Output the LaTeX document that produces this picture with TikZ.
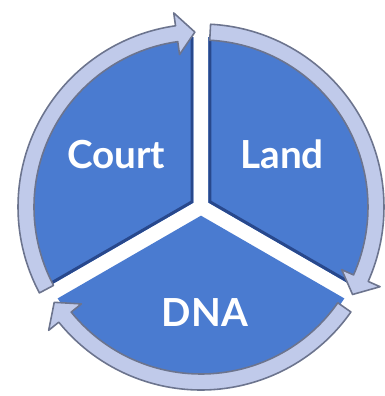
\documentclass[tikz,border=0pt]{standalone}
\usepackage{fontspec}
\setsansfont{Lato}

\definecolor{sectorblue}{RGB}{74,123,208}
\definecolor{edgeblue}{RGB}{40,72,140}
\definecolor{ringfill}{RGB}{192,202,234}
\definecolor{ringedge}{RGB}{108,116,142}

\begin{document}
\begin{tikzpicture}[x=0.02cm, y=0.02cm,
	sector/.style={fill=sectorblue},
	sectoredge/.style={draw=edgeblue, line width=3.4pt},
	ringarrow/.style={fill=ringfill, draw=ringedge, line width=0.9pt, line join=round},
	cyclelabel/.style={text=white, font=\sffamily\bfseries\fontsize{22}{26}\selectfont}]

	\useasboundingbox (-201,-189) rectangle (184,207);

	% sectors
	\fill[sector] (150:8.66) -- (92.53:170) arc[start angle=92.53, end angle=207.47, radius=170] -- cycle;
	\fill[sector] (30:8.66) -- (-27.47:170) arc[start angle=-27.47, end angle=87.47, radius=170] -- cycle;
	\fill[sector] (-90:8.66) -- (212.53:170) arc[start angle=212.53, end angle=327.47, radius=170] -- cycle;

	\begin{scope}
		\clip (150:8.66) -- (92.53:170) arc[start angle=92.53, end angle=207.47, radius=170] -- cycle;
		\draw[sectoredge] (92.53:170) -- (150:8.66) -- (207.47:170);
	\end{scope}
	\begin{scope}
		\clip (30:8.66) -- (-27.47:170) arc[start angle=-27.47, end angle=87.47, radius=170] -- cycle;
		\draw[sectoredge] (87.47:170) -- (30:8.66) -- (-27.47:170);
	\end{scope}

	% ring arrows
	\filldraw[ringarrow] (208:183) arc[start angle=208, end angle=98, radius=183] -- (98:196) -- (92:175) -- (98:154) -- (98:167) arc[start angle=98, end angle=208, radius=167] -- cycle;
	\filldraw[ringarrow] (87:183) arc[start angle=87, end angle=-24, radius=183] -- (-24:196) -- (-30:175) -- (-24:154) -- (-24:167) arc[start angle=-24, end angle=87, radius=167] -- cycle;
	\filldraw[ringarrow] (-35:183) arc[start angle=-35, end angle=-141, radius=183] -- (-141:196) -- (-147:175) -- (-141:154) -- (-141:167) arc[start angle=-141, end angle=-35, radius=167] -- cycle;

	\node[cyclelabel] (court) at (-85,52) {Court};
	\node[cyclelabel] (land) at (81,53) {Land};
	\node[cyclelabel] (dna) at (4,-106) {DNA};

\end{tikzpicture}
\end{document}
